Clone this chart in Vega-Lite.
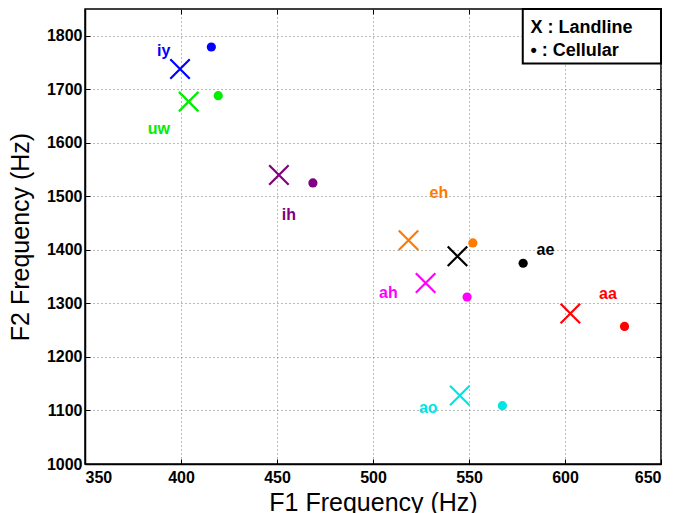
{
  "$schema": "https://vega.github.io/schema/vega-lite/v6.json",
  "width": 576,
  "height": 455,
  "autosize": "none",
  "padding": {"left": 85, "top": 9, "right": 17, "bottom": 49},
  "background": "white",
  "datasets": {
    "points": [
      {"vowel": "iy", "type": "Landline", "f1": 399.5, "f2": 1738},
      {"vowel": "iy", "type": "Cellular", "f1": 415.8, "f2": 1779},
      {"vowel": "uw", "type": "Landline", "f1": 404, "f2": 1677},
      {"vowel": "uw", "type": "Cellular", "f1": 419.4, "f2": 1688},
      {"vowel": "ih", "type": "Landline", "f1": 451, "f2": 1540},
      {"vowel": "ih", "type": "Cellular", "f1": 468.7, "f2": 1525},
      {"vowel": "eh", "type": "Landline", "f1": 518.5, "f2": 1418},
      {"vowel": "eh", "type": "Cellular", "f1": 552, "f2": 1413},
      {"vowel": "ae", "type": "Landline", "f1": 544, "f2": 1388},
      {"vowel": "ae", "type": "Cellular", "f1": 578.2, "f2": 1375},
      {"vowel": "ah", "type": "Landline", "f1": 527.4, "f2": 1338},
      {"vowel": "ah", "type": "Cellular", "f1": 549, "f2": 1312},
      {"vowel": "aa", "type": "Landline", "f1": 602.8, "f2": 1281},
      {"vowel": "aa", "type": "Cellular", "f1": 631, "f2": 1257},
      {"vowel": "ao", "type": "Landline", "f1": 545.2, "f2": 1128},
      {"vowel": "ao", "type": "Cellular", "f1": 567.4, "f2": 1109}
    ],
    "labels": [
      {"vowel": "iy", "f1": 391, "f2": 1771},
      {"vowel": "uw", "f1": 388.5, "f2": 1626},
      {"vowel": "ih", "f1": 456.2, "f2": 1466},
      {"vowel": "eh", "f1": 534.3, "f2": 1507},
      {"vowel": "ae", "f1": 589.8, "f2": 1400},
      {"vowel": "ah", "f1": 508, "f2": 1320},
      {"vowel": "aa", "f1": 622.4, "f2": 1317},
      {"vowel": "ao", "f1": 528.8, "f2": 1105}
    ],
    "legendbox": [
      {"x1": 578, "x2": 650, "y1": 1748, "y2": 1850}
    ],
    "legendtext": [
      {"label": "X : Landline", "f1": 582, "f2": 1815},
      {"label": "•  : Cellular", "f1": 582, "f2": 1772}
    ]
  },
  "config": {
    "view": {"stroke": "black", "strokeWidth": 1.5},
    "axis": {
      "labelFont": "Liberation Sans",
      "labelFontWeight": "bold",
      "labelFontSize": 16,
      "labelColor": "black",
      "titleFont": "Liberation Sans",
      "titleFontWeight": "normal",
      "titleFontSize": 25,
      "titleColor": "black",
      "domainColor": "black",
      "domainWidth": 1.5,
      "tickColor": "black",
      "tickSize": -5,
      "tickWidth": 1,
      "gridColor": "#777777",
      "gridDash": [1, 3],
      "gridWidth": 1,
      "gridOpacity": 1
    }
  },
  "layer": [
    {
      "data": {"name": "points"},
      "transform": [{"filter": "datum.type == 'Landline'"}],
      "mark": {"type": "point", "shape": "M-1,-1L1,1M-1,1L1,-1", "filled": false, "size": 380, "strokeWidth": 2.2, "opacity": 1},
      "encoding": {
        "x": {"field": "f1", "type": "quantitative", "scale": {"domain": [350, 650], "nice": false, "zero": false},
              "axis": {"orient": "bottom", "title": "F1 Frequency (Hz)", "values": [350, 400, 450, 500, 550, 600, 650], "format": "d", "grid": true, "labelPadding": 10, "titlePadding": 5}},
        "y": {"field": "f2", "type": "quantitative", "scale": {"domain": [1000, 1850], "nice": false, "zero": false},
              "axis": {"orient": "left", "title": "F2 Frequency (Hz)", "values": [1000, 1100, 1200, 1300, 1400, 1500, 1600, 1700, 1800], "format": "d", "grid": true, "labelPadding": 8, "titlePadding": 13}},
        "color": {"field": "vowel", "type": "nominal", "legend": null,
                  "scale": {"domain": ["iy", "uw", "ih", "eh", "ae", "ah", "aa", "ao"],
                            "range": ["#0000FF", "#00EE00", "#800080", "#FF7A00", "#000000", "#FF00FF", "#FF0000", "#00E5E5"]}}
      }
    },
    {
      "data": {"name": "points"},
      "transform": [{"filter": "datum.type == 'Cellular'"}],
      "mark": {"type": "circle", "size": 85, "opacity": 1},
      "encoding": {
        "x": {"field": "f1", "type": "quantitative", "axis": null},
        "y": {"field": "f2", "type": "quantitative", "axis": null},
        "color": {"field": "vowel", "type": "nominal", "legend": null}
      }
    },
    {
      "data": {"name": "labels"},
      "mark": {"type": "text", "font": "Liberation Sans", "fontWeight": "bold", "fontSize": 16, "align": "center", "baseline": "middle"},
      "encoding": {
        "x": {"field": "f1", "type": "quantitative", "axis": {"orient": "top", "labels": false, "title": null, "grid": false, "domain": false, "values": [350, 400, 450, 500, 550, 600, 650]}},
        "y": {"field": "f2", "type": "quantitative", "axis": {"orient": "right", "labels": false, "title": null, "grid": false, "domain": false, "values": [1000, 1100, 1200, 1300, 1400, 1500, 1600, 1700, 1800]}},
        "text": {"field": "vowel"},
        "color": {"field": "vowel", "type": "nominal", "legend": null}
      }
    },
    {
      "data": {"name": "legendbox"},
      "mark": {"type": "rect", "fill": "white", "stroke": "black", "strokeWidth": 2},
      "encoding": {
        "x": {"field": "x1", "type": "quantitative", "axis": null},
        "x2": {"field": "x2"},
        "y": {"field": "y1", "type": "quantitative", "axis": null},
        "y2": {"field": "y2"}
      }
    },
    {
      "data": {"name": "legendtext"},
      "mark": {"type": "text", "font": "Liberation Sans", "fontWeight": "bold", "fontSize": 18, "align": "left", "baseline": "middle", "color": "black"},
      "encoding": {
        "x": {"field": "f1", "type": "quantitative", "axis": null},
        "y": {"field": "f2", "type": "quantitative", "axis": null},
        "text": {"field": "label"}
      }
    }
  ]
}
